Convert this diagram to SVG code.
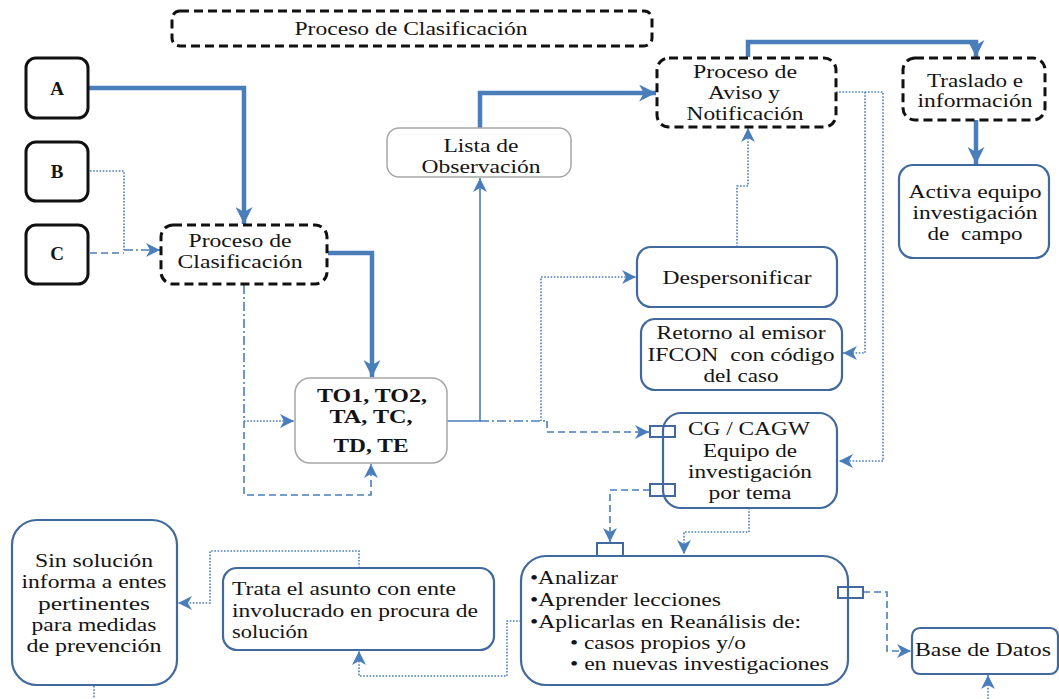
<svg xmlns="http://www.w3.org/2000/svg" width="1059" height="699" viewBox="0 0 1059 699">
  <defs>
    <style>
      .t { font-family: "Liberation Serif", "Times New Roman", serif; font-size: 19px; fill: #141414; }
      .c { text-anchor: middle; }
      .b { font-weight: bold; }
      .proc { fill: #fff; stroke: #111; stroke-width: 3; stroke-dasharray: 9 5; }
      .src { fill: #fff; stroke: #111; stroke-width: 3; }
      .grey { fill: #fff; stroke: #a6a6a6; stroke-width: 1.5; }
      .blue { fill: #fff; stroke: #41699e; stroke-width: 2.2; }
      .port { fill: none; stroke: #41699e; stroke-width: 2; }
      .ln { fill: none; stroke: #4a7ebb; }
      .thick { stroke-width: 4.5; }
      .thin { stroke-width: 1.6; }
      .dot { stroke-dasharray: 1.6 1.6; }
      .dash { stroke-dasharray: 7 4; }
      .dashdot { stroke-dasharray: 9 3 2 3; }
    </style>
    <marker id="ah" viewBox="0 0 12 12" refX="12" refY="6" markerWidth="14" markerHeight="14" markerUnits="userSpaceOnUse" orient="auto">
      <path d="M0,0 L12,6 L0,12 L3.5,6 z" fill="#4a7ebb"/>
    </marker>
    <marker id="ahBig" viewBox="0 0 12 12" refX="12" refY="6" markerWidth="17" markerHeight="17" markerUnits="userSpaceOnUse" orient="auto">
      <path d="M0,0 L12,6 L0,12 L3.5,6 z" fill="#4a7ebb"/>
    </marker>
  </defs>

  <rect width="1059" height="699" fill="#fff"/>

  <!-- connectors -->
  <g id="connectors">
    <path class="ln thick" d="M88,88 H244 V224" marker-end="url(#ahBig)"/>
    <path class="ln thin dot" d="M90,171 H124 V250"/>
    <path class="ln thin dash" d="M90,253 H124"/>
    <path class="ln thin dashdot" d="M124,250 H160" marker-end="url(#ah)"/>
    <path class="ln thick" d="M328,253 H372 V377" marker-end="url(#ahBig)"/>
    <path class="ln thin dashdot" d="M244,285 V421"/>
    <path class="ln thin dot" d="M244,421 H294" marker-end="url(#ah)"/>
    <path class="ln thin dash" d="M244,421 V495 H371 V464" marker-end="url(#ah)"/>
    <path class="ln thin" d="M447,421 H480 V178" marker-end="url(#ah)"/>
    <path class="ln thick" d="M480,128 V93 H656" marker-end="url(#ahBig)"/>
    <path class="ln thin dashdot" d="M480,421 H548"/>
    <path class="ln thin dot" d="M541,421 V277 H636" marker-end="url(#ah)"/>
    <path class="ln thin dash" d="M547,421 V432 H649" marker-end="url(#ah)"/>
    <path class="ln thin dot" d="M737,247 V186 H748 V128" marker-end="url(#ah)"/>
    <path class="ln thin dot" d="M836,92 H883 V461 H839" marker-end="url(#ah)"/>
    <path class="ln thin dot" d="M865,92 V353 H843" marker-end="url(#ah)"/>
    <path class="ln thick" d="M748,57 V42 H976 V57" marker-end="url(#ahBig)"/>
    <path class="ln thick" d="M976,120 V164" marker-end="url(#ahBig)"/>
    <path class="ln thin dash" d="M650,490 H610 V542" marker-end="url(#ah)"/>
    <path class="ln thin dot" d="M749,508 V532 H684 V554" marker-end="url(#ah)"/>
    <path class="ln thin dot" d="M521,621 H507 V676 H359 V651" marker-end="url(#ah)"/>
    <path class="ln thin dot" d="M359,568 V551 H210 V603 H178" marker-end="url(#ah)"/>
    <path class="ln thin dot" d="M94,686 V699"/>
    <path class="ln thin dash" d="M863,592 H887 V651 H911" marker-end="url(#ah)"/>
    <path class="ln thin dot" d="M988,699 V675" marker-end="url(#ah)"/>
  </g>

  <g id="title">
    <rect class="proc" x="172" y="11" width="480" height="35" rx="8"/>
    <text class="t c" x="411" y="35" textLength="233" lengthAdjust="spacingAndGlyphs">Proceso de Clasificación</text>
  </g>

  <g id="node-a">
    <rect class="src" x="26" y="58" width="62" height="60" rx="10"/>
    <text class="t c b" x="57" y="95">A</text>
  </g>
  <g id="node-b">
    <rect class="src" x="26" y="142" width="62" height="59" rx="10"/>
    <text class="t c b" x="57" y="178">B</text>
  </g>
  <g id="node-c">
    <rect class="src" x="26" y="225" width="62" height="59" rx="10"/>
    <text class="t c b" x="57" y="260">C</text>
  </g>

  <g id="proceso-clasificacion">
    <rect class="proc" x="161" y="225" width="166" height="59" rx="12"/>
    <text class="t c" x="240" y="247" textLength="103" lengthAdjust="spacingAndGlyphs">Proceso de</text>
    <text class="t c" x="240" y="268" textLength="125" lengthAdjust="spacingAndGlyphs">Clasificación</text>
  </g>

  <g id="tipos">
    <rect class="grey" x="295" y="378" width="152" height="85" rx="15"/>
    <text class="t c b" x="372" y="402" textLength="110" lengthAdjust="spacingAndGlyphs">TO1, TO2,</text>
    <text class="t c b" x="371" y="423" textLength="83" lengthAdjust="spacingAndGlyphs">TA, TC,</text>
    <text class="t c b" x="371" y="452" textLength="75" lengthAdjust="spacingAndGlyphs">TD, TE</text>
  </g>

  <g id="lista-observacion">
    <rect class="grey" x="387" y="128" width="184" height="49" rx="12"/>
    <text class="t c" x="481" y="152" textLength="75" lengthAdjust="spacingAndGlyphs">Lista de</text>
    <text class="t c" x="481" y="173" textLength="119" lengthAdjust="spacingAndGlyphs">Observación</text>
  </g>

  <g id="aviso-notificacion">
    <rect class="proc" x="657" y="58" width="179" height="69" rx="12"/>
    <text class="t c" x="745" y="78" textLength="104" lengthAdjust="spacingAndGlyphs">Proceso de</text>
    <text class="t c" x="744" y="99" textLength="72" lengthAdjust="spacingAndGlyphs">Aviso y</text>
    <text class="t c" x="745" y="120" textLength="117" lengthAdjust="spacingAndGlyphs">Notificación</text>
  </g>

  <g id="traslado">
    <rect class="proc" x="903" y="58" width="142" height="62" rx="12"/>
    <text class="t c" x="975" y="87" textLength="96" lengthAdjust="spacingAndGlyphs">Traslado e</text>
    <text class="t c" x="975" y="107" textLength="115" lengthAdjust="spacingAndGlyphs">información</text>
  </g>

  <g id="activa-equipo">
    <rect class="blue" x="899" y="165" width="150" height="93" rx="14"/>
    <text class="t c" x="975" y="198" textLength="133" lengthAdjust="spacingAndGlyphs">Activa equipo</text>
    <text class="t c" x="975" y="219" textLength="125" lengthAdjust="spacingAndGlyphs">investigación</text>
    <text class="t c" x="975" y="240" textLength="95" lengthAdjust="spacingAndGlyphs" xml:space="preserve">de  campo</text>
  </g>

  <g id="despersonificar">
    <rect class="blue" x="637" y="247" width="200" height="60" rx="14"/>
    <text class="t c" x="737" y="284" textLength="149" lengthAdjust="spacingAndGlyphs">Despersonificar</text>
  </g>

  <g id="retorno-emisor">
    <rect class="blue" x="641" y="319" width="201" height="71" rx="14"/>
    <text class="t c" x="741" y="339" textLength="169" lengthAdjust="spacingAndGlyphs">Retorno al emisor</text>
    <text class="t c" x="741" y="361" textLength="187" lengthAdjust="spacingAndGlyphs" xml:space="preserve">IFCON  con código</text>
    <text class="t c" x="741" y="382" textLength="75" lengthAdjust="spacingAndGlyphs">del caso</text>
  </g>

  <g id="equipo-tema">
    <rect class="blue" x="663" y="413" width="174" height="95" rx="18"/>
    <rect class="port" x="650" y="426" width="25" height="11"/>
    <rect class="port" x="650" y="484" width="25" height="12"/>
    <text class="t c" x="749" y="435" textLength="122" lengthAdjust="spacingAndGlyphs">CG / CAGW</text>
    <text class="t c" x="750" y="457" textLength="94" lengthAdjust="spacingAndGlyphs">Equipo de</text>
    <text class="t c" x="750" y="478" textLength="124" lengthAdjust="spacingAndGlyphs">investigación</text>
    <text class="t c" x="750" y="499" textLength="83" lengthAdjust="spacingAndGlyphs">por tema</text>
  </g>

  <g id="analizar">
    <rect class="blue" x="521" y="556" width="327" height="129" rx="25"/>
    <rect class="port" x="597" y="543" width="26" height="13"/>
    <rect class="port" x="838" y="587" width="25" height="11"/>
    <text class="t" x="530" y="584" textLength="88" lengthAdjust="spacingAndGlyphs">•Analizar</text>
    <text class="t" x="530" y="606" textLength="191" lengthAdjust="spacingAndGlyphs">•Aprender lecciones</text>
    <text class="t" x="530" y="628" textLength="271" lengthAdjust="spacingAndGlyphs">•Aplicarlas en Reanálisis de:</text>
    <text class="t" x="570" y="649" textLength="176" lengthAdjust="spacingAndGlyphs">• casos propios y/o</text>
    <text class="t" x="570" y="670" textLength="259" lengthAdjust="spacingAndGlyphs">• en nuevas investigaciones</text>
  </g>

  <g id="base-datos">
    <rect class="blue" x="912" y="628" width="146" height="46" rx="8"/>
    <text class="t c" x="983" y="656" textLength="136" lengthAdjust="spacingAndGlyphs">Base de Datos</text>
  </g>

  <g id="trata-asunto">
    <rect class="blue" x="223" y="568" width="271" height="82" rx="14"/>
    <text class="t" x="232" y="595" textLength="224" lengthAdjust="spacingAndGlyphs">Trata el asunto con ente</text>
    <text class="t" x="232" y="617" textLength="246" lengthAdjust="spacingAndGlyphs">involucrado en procura de</text>
    <text class="t" x="232" y="638" textLength="76" lengthAdjust="spacingAndGlyphs">solución</text>
  </g>

  <g id="sin-solucion">
    <rect class="blue" x="12" y="520" width="165" height="165" rx="25"/>
    <text class="t c" x="94" y="567" textLength="118" lengthAdjust="spacingAndGlyphs">Sin solución</text>
    <text class="t c" x="94" y="588" textLength="145" lengthAdjust="spacingAndGlyphs">informa a entes</text>
    <text class="t c" x="94" y="610" textLength="112" lengthAdjust="spacingAndGlyphs">pertinentes</text>
    <text class="t c" x="94" y="631" textLength="125" lengthAdjust="spacingAndGlyphs">para medidas</text>
    <text class="t c" x="94" y="652" textLength="135" lengthAdjust="spacingAndGlyphs">de prevención</text>
  </g>
</svg>
